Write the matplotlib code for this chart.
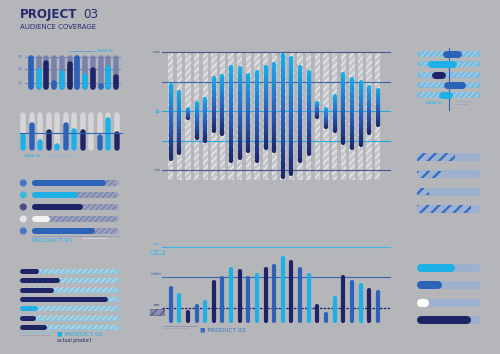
import numpy as np
import matplotlib
matplotlib.use("Agg")
import matplotlib.pyplot as plt
import matplotlib.colors as mcolors
from matplotlib.collections import LineCollection

plt.rcParams["hatch.linewidth"] = 0.8
plt.rcParams["font.family"] = ["DejaVu Sans"]

W, H = 500, 354
BG = "#b5b6ba"
NAVY = "#1f2466"
MID = "#2c62b8"
LIGHT = "#1cb0e6"
TITLE = "#24296c"
GRAD = mcolors.LinearSegmentedColormap.from_list("wave", ["#1c2567", "#2a62c0", "#19aeea"])

# --- data -------------------------------------------------------------
# top-left column chart
t1_vals = [1.0, 0.62, 0.86, 0.27, 0.57, 0.81, 1.0, 0.48, 0.64, 0.19, 0.71, 0.46]
t1_colors = [MID, LIGHT, NAVY] * 4
t1_lines = [0.94, 0.6, 0.2]
t1_ticks = ["80", "40", "20"]

# second column chart (DATA 02)
t2_vals = [0.46, 0.74, 0.31, 0.56, 0.2, 0.74, 0.59, 0.56, 0.15, 0.44, 0.87, 0.51]
t2_colors = [LIGHT, MID, LIGHT, NAVY] * 3
t2_ref = 0.46

# PRODUCT 01 rows
p1_vals = [0.85, 0.53, 0.59, 0.21, 0.72]
p1_colors = [MID, LIGHT, NAVY, "#f4f4f4", MID]
p1_dots = ["#4a78c6", "#3cb8e0", "#4b4f88", "#e6e6e6", "#4a78c6"]

# PRODUCT 02 rows
p2_vals = [0.19, 0.40, 0.35, 0.88, 0.18, 0.16, 0.27]
p2_colors = [NAVY, NAVY, NAVY, NAVY, LIGHT, NAVY, NAVY]

# main wave chart (max = 100, min = -100)
wave_top = [47, 36, 7, 17, 24, 59, 63, 79, 76, 64, 69, 79, 84,
            99, 93, 79, 69, 17, 7, 29, 66, 57, 52, 44, 40]
wave_bot = [-85, -74, -16, -49, -54, -37, -43, -88, -84, -72, -89, -66, -71,
            -116, -111, -88, -77, -14, -30, -38, -57, -66, -61, -40, -27]
wave_levels = [100, 50, 0, -50, -100]
wave_level_colors = ["#48558e", "#3b67b0", "#27a8e0", "#27a8e0", "#48558e"]

# PRODUCT 03 columns
p3_vals = [110, 90, 40, 58, 70, 130, 140, 168, 162, 140, 150, 168, 177,
           202, 190, 168, 150, 58, 34, 80, 145, 130, 120, 105, 100]
p3_colors = [MID, LIGHT, NAVY]
p3_levels = {"max": 228, "middle": 138, "min": 45}

# right top floating ranges (DATA 01)
rt_start = [0.39, 0.17, 0.22, 0.42, 0.33]
rt_end = [0.69, 0.61, 0.44, 0.75, 0.56]
rt_colors = [MID, LIGHT, NAVY, MID, LIGHT]

# right progress bars
rm_vals = [0.59, 0.39, 0.19, 0.84]
rb_vals = [0.59, 0.39, 0.19, 0.84]
rb_colors = [LIGHT, MID, "white", NAVY]


fig = plt.figure(figsize=(W / 100, H / 100), dpi=100)
fig.patch.set_facecolor(BG)


def px_axes(x0, y0, x1, y1):
    ax = fig.add_axes([x0 / W, 1 - y1 / H, (x1 - x0) / W, (y1 - y0) / H])
    ax.set_axis_off()
    ax.patch.set_alpha(0)
    return ax


def ppu(ax):
    p0 = ax.transData.transform((0, 0))
    p1 = ax.transData.transform((1, 1))
    return abs(p1[0] - p0[0]), abs(p1[1] - p0[1])


def vbar(ax, x, y0, y1, color, w_px, **kw):
    cap = w_px / 2 / ppu(ax)[1]
    a, b = y0 + cap, y1 - cap
    if b < a:
        a = b = (y0 + y1) / 2
        b = a + 1e-3
    ax.plot([x, x], [a, b], color=color, lw=w_px * 0.72,
            solid_capstyle="round", **kw)


def hbar(ax, y, x0, x1, color, h_px, **kw):
    cap = h_px / 2 / ppu(ax)[0]
    a, b = x0 + cap, x1 - cap
    if b < a:
        a = (x0 + x1) / 2
        b = a + 1e-3
    ax.plot([a, b], [y, y], color=color, lw=h_px * 0.72,
            solid_capstyle="round", **kw)


def grad_bar(ax, x, y0, y1, w_px):
    cap = w_px / 2 / ppu(ax)[1]
    lw = w_px * 0.72
    ax.plot([x, x], [y1 - 2 * cap, y1 - cap], color=GRAD(1.0), lw=lw,
            solid_capstyle="round", zorder=4)
    ax.plot([x, x], [y0 + cap, y0 + 2 * cap], color=GRAD(0.0), lw=lw,
            solid_capstyle="round", zorder=4)
    ys = np.linspace(y0 + cap, y1 - cap, 40)
    step = ys[1] - ys[0]
    segs = [[(x, a), (x, b + step * 0.3)] for a, b in zip(ys[:-1], ys[1:])]
    mid = (ys[:-1] + ys[1:]) / 2
    frac = (mid - y0) / (y1 - y0)
    ax.add_collection(LineCollection(segs, colors=GRAD(frac), linewidths=lw,
                                     capstyle="butt", zorder=5))


# --- title ------------------------------------------------------------
fig.text(20 / W, 1 - 18 / H, "PROJECT", fontsize=8.6, weight="bold", color=TITLE)
fig.text(83 / W, 1 - 18 / H, "03", fontsize=8.6, color=TITLE)
fig.text(20 / W, 1 - 29 / H, "AUDIENCE COVERAGE", fontsize=5, color=TITLE)

# --- top-left columns -------------------------------------------------
ax = px_axes(15, 45, 125, 95)
ax.set_xlim(-2.07, 12.16)
ax.set_ylim(-0.143, 1.286)
for lv in t1_lines:
    ax.plot([-0.78, 11.5], [lv, lv], color="#4f86cc", lw=0.6, zorder=1)
for i, (v, c) in enumerate(zip(t1_vals, t1_colors)):
    vbar(ax, i, 0, 1.0, "#7a82aa", 5.5, zorder=2)
    vbar(ax, i, 0, v, c, 5.5, zorder=3)
for lv, t in zip(t1_lines, t1_ticks):
    ax.text(-1.45, lv, t, fontsize=2.6, color="#3f7fd0", ha="center", va="center")
ax.plot([4.9, 8.3], [1.11, 1.11], color="#4f9bd8", lw=0.5)
ax.text(8.5, 1.11, "DATA 01", fontsize=2.8, color=LIGHT, va="center")

# --- DATA 02 columns --------------------------------------------------
ax = px_axes(15, 105, 125, 160)
ax.set_xlim(-0.94, 11.94)
ax.set_ylim(-0.23, 1.18)
for i, (v, c) in enumerate(zip(t2_vals, t2_colors)):
    vbar(ax, i, 0, 1.0, "#d6d6d8", 5.5, zorder=1)
    vbar(ax, i, 0, v, c, 5.5, zorder=2)
ax.plot([-0.35, 11.6], [t2_ref, t2_ref], color=MID, lw=0.8, zorder=3)
ax.text(0.1, -0.12, "DATA 02", fontsize=2.8, color=LIGHT, va="center")
ax.plot([2.5, 5.8], [-0.12, -0.12], color="#7fb6dc", lw=0.5)

# --- PRODUCT 01 -------------------------------------------------------
ax = px_axes(15, 175, 125, 245)
ax.set_xlim(-0.195, 1.069)
ax.set_ylim(5.17, -0.667)
for i, (v, c) in enumerate(zip(p1_vals, p1_colors)):
    hbar(ax, i, 0, 1.0, "#9ba1bd", 6, zorder=1)
    ax.barh(i, 0.94, left=0.03, height=0.5, facecolor="none",
            edgecolor="#747ca3", hatch="//////", linewidth=0, zorder=2)
    hbar(ax, i, 0, v, c, 6, zorder=3)
ax.scatter(np.full(len(p1_dots), -0.1), np.arange(len(p1_dots)),
           s=26, c=p1_dots, linewidths=0, zorder=3)
ax.plot([0, 1.01], [4.45, 4.45], color="#8c93b0", lw=0.5)
ax.text(0, 4.8, "PRODUCT 01", fontsize=4.6, color=LIGHT, va="center")
ax.plot([0.57, 0.85], [4.62, 4.62], color="#d9dbe4", lw=0.6)

# --- PRODUCT 02 -------------------------------------------------------
ax = px_axes(15, 265, 125, 345)
ax.set_xlim(-0.04, 1.06)
ax.set_ylim(7.93, -0.643)
for i, (v, c) in enumerate(zip(p2_vals, p2_colors)):
    hbar(ax, i, 0, 1.0, "#8ec5dd", 5, zorder=1)
    ax.barh(i, 0.96, left=0.02, height=0.5, facecolor="none",
            edgecolor="#b9dcec", hatch="//////", linewidth=0, zorder=2)
    hbar(ax, i, 0, v, c, 5, zorder=3)
ax.plot([0, 0.36], [6.54, 6.54], color="#7fc0e0", lw=0.6)
ax.plot([0, 0.31], [6.86, 6.86], color="#9aa0b8", lw=0.5)
ax.text(0.38, 6.75, "\u25a0 PRODUCT 02", fontsize=4.2, color=LIGHT, va="center")
ax.text(0.38, 7.4, "actual product", fontsize=3.4, color=NAVY, va="center")

# --- main wave chart --------------------------------------------------
ax = px_axes(150, 45, 392, 185)
ax.set_xlim(-2.40, 25.65)
ax.set_ylim(-125.4, 111.9)
idx = np.arange(len(wave_top))
col_hi = max(wave_levels)
col_lo = min(wave_bot) - 1
ax.bar(idx, col_hi - col_lo, bottom=col_lo, width=0.62, facecolor="#c6c7cb",
       edgecolor="#eeeeee", hatch="/////", linewidth=0, zorder=1)
for lv, c in zip(wave_levels, wave_level_colors):
    ax.plot([-1.0, 25.4], [lv, lv], color=c, lw=0.8, zorder=2)
for i, (t, b) in enumerate(zip(wave_top, wave_bot)):
    grad_bar(ax, i, b, t, 4.2)
ax.text(-1.6, 100, "max", fontsize=2.6, color="#48558e", ha="center", va="center")
ax.text(-1.6, -100, "min", fontsize=2.6, color="#48558e", ha="center", va="center")
ax.plot([-1.6], [0], marker="o", ms=2, mfc="none", mec=LIGHT, mew=0.6)

# --- PRODUCT 03 columns -----------------------------------------------
ax = px_axes(150, 240, 392, 335)
ax.set_xlim(-2.40, 25.65)
ax.set_ylim(-36, 249)
ax.plot([-1.0, 25.4], [p3_levels["max"]] * 2, color="#3ab6e6", lw=0.8, zorder=1)
ax.plot([-1.0, 25.4], [p3_levels["middle"]] * 2, color="#3b67b0", lw=0.8, zorder=1)
ax.plot([-1.0, 25.4], [p3_levels["min"]] * 2, color=NAVY, lw=0.9,
        dashes=(2, 1), zorder=1)
for i, v in enumerate(p3_vals):
    vbar(ax, i, 0, v, p3_colors[i % 3], 4.2, zorder=3)
for name, c in [("max", "#3ab6e6"), ("middle", "#3b67b0"), ("min", NAVY)]:
    ax.text(-1.6, p3_levels[name] + 8, name, fontsize=2.4, color=c,
            ha="center", va="center")
ax.bar(-1.6, 12, bottom=p3_levels["max"] - 20, width=1.6, facecolor="none",
       edgecolor="#3ab6e6", hatch="////", linewidth=0.4)
ax.bar(-1.6, 16, bottom=p3_levels["min"] - 20, width=1.6, facecolor="#8a90b0",
       edgecolor="#4b5180", hatch="////", linewidth=0.4)
ax.plot([-0.9, 3.0], [-8, -8], color="#7f87a8", lw=0.5)
ax.plot([-0.9, 2.0], [-14, -14], color="#9aa0b8", lw=0.4)
ax.text(3.4, -21, "\u25a0 PRODUCT 03", fontsize=4.2, color="#3a6fc0", va="center")

# --- right top floating ranges ----------------------------------------
ax = px_axes(410, 45, 490, 112)
ax.set_xlim(-0.11, 1.14)
ax.set_ylim(5.66, -0.88)
for i, (a, b, c) in enumerate(zip(rt_start, rt_end, rt_colors)):
    hbar(ax, i, 0, 1.0, "#7ab9de", 5.5, zorder=1)
    ax.barh(i, 0.92, left=0.04, height=0.5, facecolor="none",
            edgecolor="#a9d3ea", hatch="//////", linewidth=0, zorder=2)
    hbar(ax, i, a, b, c, 7, zorder=4)
ax.plot([0.5, 0.5], [-0.59, 5.46], color=MID, lw=0.8, zorder=3)
ax.text(0.12, 4.78, "DATA 01", fontsize=3.2, color=LIGHT, va="center")
ax.plot([0.6, 0.85], [4.62, 4.62], color="#9aa0b8", lw=0.5)
ax.plot([0.6, 0.8], [4.92, 4.92], color="#9aa0b8", lw=0.5)

# --- right hatched progress bars --------------------------------------
ax = px_axes(410, 148, 490, 218)
ax.set_xlim(-0.11, 1.14)
ax.set_ylim(3.52, -0.52)
with plt.rc_context({"hatch.linewidth": 1.6}):
    for i, v in enumerate(rm_vals):
        hbar(ax, i, 0, 1.0, "#9db0ce", 8, zorder=1)
        ax.barh(i, v, left=0.0, height=0.44, facecolor="none", edgecolor="#2f6ac6",
                hatch="///", linewidth=0, zorder=2)

# --- right solid progress bars ----------------------------------------
ax = px_axes(410, 258, 490, 330)
ax.set_xlim(-0.11, 1.14)
ax.set_ylim(3.58, -0.577)
for i, (v, c) in enumerate(zip(rb_vals, rb_colors)):
    hbar(ax, i, 0, 1.0, "#9db0ce", 8, zorder=1)
    hbar(ax, i, 0, v, c, 8, zorder=2)

fig.savefig("out.png", dpi=100, facecolor=BG)
